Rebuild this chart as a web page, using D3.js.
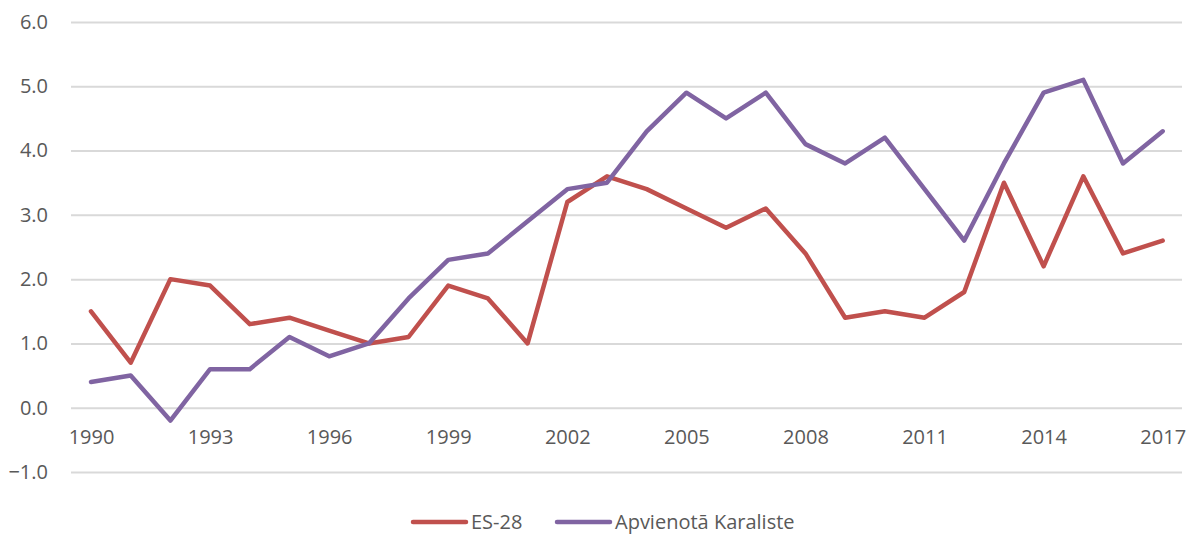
<!DOCTYPE html>
<html>
<head>
<meta charset="utf-8">
<script src="https://cdn.jsdelivr.net/npm/d3@7"></script>
<style>
  body { margin: 0; background: #fff; }
  text { font-family: "Open Sans", sans-serif; fill: #595959; }
</style>
</head>
<body>
<div id="chart"></div>
<script>
// chart data
var years = d3.range(1990, 2018);
var es28 = [1.5, 0.7, 2.0, 1.9, 1.3, 1.4, 1.2, 1.0, 1.1, 1.9, 1.7, 1.0, 3.2, 3.6,
            3.4, 3.1, 2.8, 3.1, 2.4, 1.4, 1.5, 1.4, 1.8, 3.5, 2.2, 3.6, 2.4, 2.6];
var uk = [0.4, 0.5, -0.2, 0.6, 0.6, 1.1, 0.8, 1.0, 1.7, 2.3, 2.4, 2.9, 3.4, 3.5,
          4.3, 4.9, 4.5, 4.9, 4.1, 3.8, 4.2, 3.4, 2.6, 3.8, 4.9, 5.1, 3.8, 4.3];
var seriesNames = ["ES-28", "Apvienotā Karaliste"];
var xTicks = [1990, 1993, 1996, 1999, 2002, 2005, 2008, 2011, 2014, 2017];
var yTicks = [-1, 0, 1, 2, 3, 4, 5, 6];

var width = 1190;
var height = 534;

// plot box
var gridLeft = 71;
var gridRight = 1182;

var svg = d3.select("#chart")
  .append("svg")
  .attr("width", width)
  .attr("height", height);

var x = d3.scaleLinear().domain([1990, 2017]).range([91, 1162.7]);
var y = d3.scaleLinear().domain([-1, 6]).range([472, 22]);

// gridlines + y labels
var yAxis = d3.axisLeft(y)
  .tickValues(yTicks)
  .tickFormat(d3.format(".1f"))
  .tickSize(-(gridRight - gridLeft))
  .tickPadding(23);

var gy = svg.append("g")
  .attr("transform", "translate(" + gridLeft + ",0)")
  .call(yAxis);
gy.select(".domain").remove();
gy.selectAll("line").attr("stroke", "#d9d9d9").attr("stroke-width", 2);
gy.selectAll("text")
  .style("font-size", "20px")
  .attr("fill", "#595959");

// x labels, sit under the zero line
var xAxis = d3.axisBottom(x)
  .tickValues(xTicks)
  .tickFormat(d3.format("d"))
  .tickSize(0)
  .tickPadding(22);

var gx = svg.append("g")
  .attr("transform", "translate(0," + y(0) + ")")
  .call(xAxis);
gx.select(".domain").remove();
gx.selectAll("text")
  .style("font-size", "20px")
  .attr("fill", "#595959");

// lines
var series = [
  { name: seriesNames[0], values: es28, color: "#c0504d" },
  { name: seriesNames[1], values: uk, color: "#8064a2" }
];

var line = d3.line()
  .x(function(d, i) { return x(years[i]); })
  .y(function(d) { return y(d); });

svg.selectAll(".series")
  .data(series)
  .enter()
  .append("path")
  .attr("class", "series")
  .attr("d", function(d) { return line(d.values); })
  .attr("fill", "none")
  .attr("stroke", function(d) { return d.color; })
  .attr("stroke-width", 4.5)
  .attr("stroke-linejoin", "round")
  .attr("stroke-linecap", "round");

// legend
var legendX = [413, 557];
var legend = svg.selectAll(".legend")
  .data(series)
  .enter()
  .append("g")
  .attr("class", "legend")
  .attr("transform", function(d, i) { return "translate(" + legendX[i] + ",522)"; });

legend.append("line")
  .attr("x1", 0)
  .attr("x2", 53)
  .attr("stroke", function(d) { return d.color; })
  .attr("stroke-width", 4.5)
  .attr("stroke-linecap", "round");

legend.append("text")
  .attr("x", 58)
  .attr("dy", "0.35em")
  .style("font-size", "20px")
  .text(function(d) { return d.name; });
</script>
</body>
</html>
